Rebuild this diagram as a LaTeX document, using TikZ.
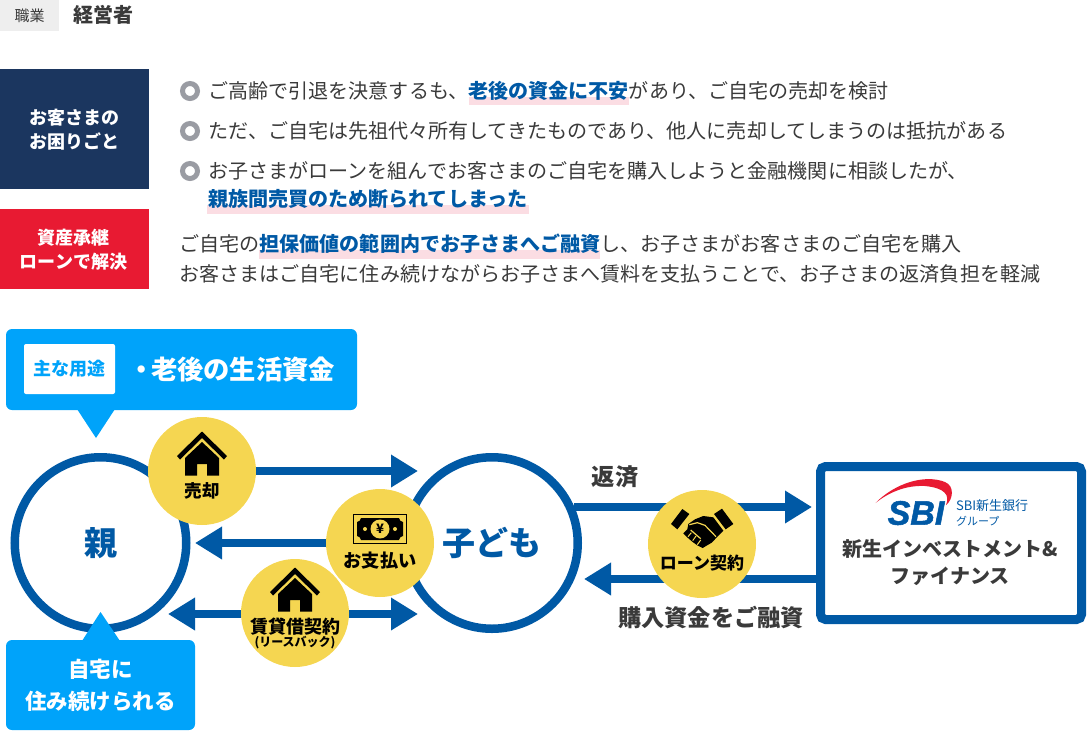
\documentclass[tikz,border=0pt]{standalone}
\usepackage{fontspec}
\usetikzlibrary{arrows.meta}
\setmainfont{Noto Sans CJK JP}
\newfontfamily\sbifont[BoldItalicFeatures={FakeBold=1.5}]{Liberation Sans}
\definecolor{brandblue}{HTML}{0059A5}
\definecolor{skyblue}{HTML}{00A3FA}
\definecolor{gold}{HTML}{F5D651}
\definecolor{navybox}{HTML}{1B365F}
\definecolor{redbox}{HTML}{E81A32}
\definecolor{pinkhl}{HTML}{FBDDE3}
\definecolor{bodytext}{HTML}{3A3A3A}
\definecolor{graybox}{HTML}{EEEEEE}
\definecolor{ringgray}{HTML}{9A9CA3}
\newcommand{\fs}[2]{\fontsize{#1}{#2}\selectfont}
\newcommand{\hlt}[1]{\textcolor{brandblue}{\bfseries #1}}
\tikzset{
  every node/.style={inner sep=0pt,outer sep=0pt},
  bodyline/.style={anchor=west,text=bodytext,font=\fs{20.05}{24}},
  sidebox/.style={text=white,font=\fs{18}{24}\bfseries,align=center},
  bigcircle/.style={circle,draw=brandblue,line width=8.5pt,fill=white,minimum size=171.5pt,text=brandblue,font=\fs{33}{36}\bfseries},
  badge/.style={circle,fill=gold,minimum size=108pt},
  badgetext/.style={text=black,font=\fs{17}{20}\bfseries,align=center},
  flow/.style={draw=brandblue,line width=7.5pt,-{Triangle[length=27pt,width=31pt]}},
  flowboth/.style={draw=brandblue,line width=7.5pt,{Triangle[length=27pt,width=31pt]}-{Triangle[length=27pt,width=31pt]}},
  flowtext/.style={text=bodytext,font=\fs{23.2}{26}\bfseries},
  callout/.style={fill=skyblue,rounded corners=6pt},
  ring/.style={circle,draw=ringgray,line width=5pt,fill=white,minimum size=15pt},
}
\newcommand{\houseicon}[2]{%
  \begin{scope}[shift={(#1,#2)}]
    \fill[black] (0,0) -- (25,24.5) -- (22,28) -- (0,6.5) -- (-22,28) -- (-25,24.5) -- cycle;
    \fill[black] (0,10.5) -- (17,26.5) -- (17,44) -- (5,44) -- (5,32.5) -- (-5,32.5) -- (-5,44) -- (-17,44) -- (-17,26.5) -- cycle;
  \end{scope}}
\begin{document}
\begin{tikzpicture}[x=1pt,y=-1pt]
\useasboundingbox (0,0) rectangle (1090,732);
% header
\node[fill=graybox,minimum width=59pt,minimum height=31pt,text=bodytext,font=\fs{15}{18}] (jobtag) at (29.5,15.5) {職業};
\node[anchor=west,text=bodytext,font=\fs{20}{22}\bfseries] (jobname) at (73,15) {経営者};
% side boxes
\node[fill=navybox,minimum width=149pt,minimum height=120pt] (troublebox) at (74.5,129) {};
\node[sidebox] (trouble) at (74.5,130) {お客さまの\\お困りごと};
\node[fill=redbox,minimum width=149pt,minimum height=80pt] (solutionbox) at (74.5,249) {};
\node[sidebox] (solution) at (73.5,250) {資産承継\\ローンで解決};
% highlights
\fill[pinkhl] (469,97) rectangle (629,105);
\fill[pinkhl] (207,205) rectangle (529,214);
\fill[pinkhl] (259,250) rectangle (600,259);
% bullets
\node[ring] (b1) at (190,91) {};
\node[ring] (b2) at (190,131) {};
\node[ring] (b3) at (190,171) {};
% body text
\node[bodyline] (t1) at (208.5,91) {ご高齢で引退を決意するも、\hlt{老後の資金に不安}があり、ご自宅の売却を検討};
\node[bodyline] (t2) at (208.5,131) {ただ、ご自宅は先祖代々所有してきたものであり、他人に売却してしまうのは抵抗がある};
\node[bodyline] (t3) at (208.5,171) {お子さまがローンを組んでお客さまのご自宅を購入しようと金融機関に相談したが、};
\node[bodyline] (t4) at (208,199) {\hlt{親族間売買のため断られてしまった}};
\node[bodyline] (t5) at (179.5,244) {ご自宅の\hlt{担保価値の範囲内でお子さまへご融資}し、お子さまがお客さまのご自宅を購入};
\node[bodyline] (t6) at (179.5,274) {お客さまはご自宅に住み続けながらお子さまへ賃料を支払うことで、お子さまの返済負担を軽減};
% main circles
\node[bigcircle] (parent) at (100.5,543) {親};
\node[bigcircle] (child) at (492,543) {子ども};
% SBI box
\node[draw=brandblue,line width=9pt,rounded corners=5pt,minimum width=261pt,minimum height=153pt,fill=white] (sbi) at (951,543) {};
% connector free ends
\coordinate (saleend) at (418,471);
\coordinate (payend) at (195,543);
\coordinate (leaseL) at (168,614);
\coordinate (leaseR) at (418,614);
\coordinate (repayend) at (812,507);
\coordinate (fundstart) at (816,579);
\coordinate (fundend) at (584,579);
\coordinate (repaystart) at (574,507);
% callouts
\fill[callout] (6,329) rectangle (357,410);
\fill[skyblue] (77,409) -- (115,409) -- (96,438) -- cycle;
\node[fill=white,rounded corners=2pt,minimum width=91pt,minimum height=50pt,text=skyblue,font=\fs{18}{20}\bfseries] (usagetag) at (69.5,369) {主な用途};
\node[anchor=west,text=white,font=\fs{26.3}{30}\bfseries] (usage) at (133,369) {\makebox[18pt]{・}老後の生活資金};
\fill[skyblue] (82,641) -- (120,641) -- (100.5,612) -- cycle;
\node[callout,minimum width=189pt,minimum height=90pt,text=white,font=\fs{21.5}{32}\bfseries,align=center] (stay) at (100.5,685) {自宅に\\住み続けられる};
% badges
\node[badge] (sale) at (202,471) {};
\node[badge] (pay) at (380,543) {};
\draw[flow] (sale.east) -- (saleend);
\draw[flow] (pay.west) -- (payend);
\draw[flowboth] (leaseL) -- (leaseR);
\draw[flow] (repaystart) -- (repayend);
\draw[flow] (fundstart) -- (fundend);
\node[badge] (lease) at (295,613) {};
\node[badge] (loan) at (702,544) {};
% house icons
\houseicon{202}{431.5}
\houseicon{295}{567.5}
% money icon
\draw[black,line width=1.5pt] (353.5,514.5) rectangle (406.5,543.5);
\fill[black] (361,518) -- (399,518) .. controls (399,520) and (401,522) .. (403,522) -- (403,536) .. controls (401,536) and (399,538) .. (399,540) -- (361,540) .. controls (361,538) and (359,536) .. (357,536) -- (357,522) .. controls (359,522) and (361,520) .. (361,518) -- cycle;
\fill[gold] (380,529) circle (9.5pt);
\fill[gold] (365,529) circle (2pt);
\fill[gold] (395,529) circle (2pt);
\node[text=black,font=\fs{13}{14}\bfseries] (yen) at (380,529) {¥};
% handshake icon
\begin{scope}[shift={(660,500)},x=0.3333pt,y=-0.3333pt]
  \fill[black] (33,72) -- (67,27) -- (88,42) -- (52,88) -- cycle;
  \fill[black] (162,42) -- (186,26) -- (220,72) -- (197,88) -- cycle;
  \fill[black] (85,72) -- (105,58) -- (130,48) -- (160,52) -- (190,92) -- (155,128) -- (128,144) -- (112,136) -- (98,126) -- (84,114) -- (70,100) -- (82,88) -- cycle;
  \draw[gold,line width=1.2pt] (88,74) -- (112,68) -- (135,76) -- (168,110);
  \draw[gold,line width=1.2pt] (92,90) -- (122,116);
  \draw[gold,line width=1pt] (84,110) -- (94,98) (98,122) -- (108,108) (112,134) -- (122,120);
\end{scope}
% badge labels
\node[badgetext,font=\fs{17.5}{20}\bfseries] (salet) at (202,491) {売却};
\node[badgetext,font=\fs{18.2}{20}\bfseries] (payt) at (380,561) {お支払い};
\node[badgetext,font=\fs{18}{20}\bfseries] (leaset) at (295,627) {賃貸借契約};
\node[badgetext,font=\fs{12}{14}\bfseries] (leaset2) at (295,643) {(リースバック)};
\node[badgetext,font=\fs{17}{20}\bfseries] (loant) at (702,563) {ローン契約};
% flow labels
\node[flowtext] (repayt) at (615,477) {返済};
\node[flowtext] (fundt) at (711,617) {購入資金をご融資};
% SBI logo
\fill[redbox] (875.5,503) .. controls (895,483) and (925,474) .. (945,482) .. controls (955,486) and (953,500) .. (946,505) .. controls (950,495) and (945,488) .. (925,486) .. controls (905,485) and (888,493) .. (875.5,503) -- cycle;
\node[text=brandblue,font=\sbifont\fs{34}{38}\bfseries\itshape] (sbilogo) at (916,513) {SBI};
\node[anchor=west,text=brandblue,font=\fs{13}{15},align=left] (sbibank) at (956,513) {SBI新生銀行\\{\fs{11}{15}\selectfont グループ}};
\node[text=bodytext,font=\fs{20}{27}\bfseries,align=center] (sbiname) at (950,562.5) {新生インベストメント\&\\ファイナンス};
\end{tikzpicture}
\end{document}
